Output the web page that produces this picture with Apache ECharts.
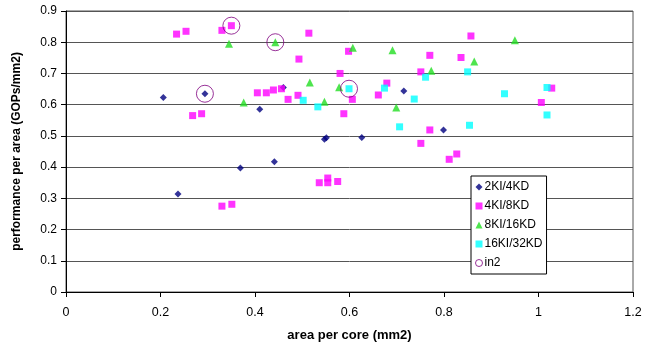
<!DOCTYPE html>
<html><head><meta charset="utf-8">
<script src="https://cdn.jsdelivr.net/npm/echarts@6/dist/echarts.min.js"></script>
<style>html,body{margin:0;padding:0;background:#fff}#c{width:645px;height:352px}</style>
</head><body><div id="c"></div>
<script>
var seriesNames = ['2KI/4KD', '4KI/8KD', '8KI/16KD', '16KI/32KD', 'in2'];
var xTicks = [0, 0.2, 0.4, 0.6, 0.8, 1, 1.2];
var yTicks = [0, 0.1, 0.2, 0.3, 0.4, 0.5, 0.6, 0.7, 0.8, 0.9];
var data2KI = [[0.206,0.623],[0.294,0.635],[0.410,0.585],[0.460,0.655],[0.237,0.314],[0.369,0.397],[0.441,0.417],[0.547,0.489],[0.551,0.494],[0.626,0.495],[0.715,0.644],[0.799,0.519]];
var data4KI = [[0.234,0.826],[0.254,0.835],[0.330,0.838],[0.350,0.853],[0.268,0.565],[0.287,0.571],[0.405,0.638],[0.424,0.638],[0.439,0.647],[0.456,0.651],[0.470,0.617],[0.491,0.630],[0.493,0.746],[0.514,0.829],[0.580,0.700],[0.598,0.771],[0.606,0.617],[0.588,0.571],[0.661,0.631],[0.679,0.669],[0.751,0.705],[0.770,0.758],[0.751,0.476],[0.770,0.519],[0.811,0.425],[0.827,0.442],[0.836,0.751],[0.857,0.820],[1.006,0.607],[1.028,0.653],[0.330,0.275],[0.351,0.281],[0.536,0.350],[0.554,0.365],[0.554,0.350],[0.575,0.354]];
var data8KI = [[0.345,0.795],[0.376,0.607],[0.443,0.800],[0.516,0.671],[0.547,0.609],[0.578,0.656],[0.607,0.782],[0.691,0.774],[0.699,0.591],[0.773,0.709],[0.864,0.738],[0.950,0.806]];
var data16KI = [[0.502,0.614],[0.533,0.593],[0.599,0.651],[0.674,0.653],[0.706,0.529],[0.737,0.618],[0.761,0.688],[0.850,0.705],[0.854,0.534],[0.928,0.635],[1.018,0.655],[1.018,0.567]];
var dataIn2 = [[0.294,0.635],[0.350,0.853],[0.443,0.800],[0.599,0.651]];

var colors = ['#000080', '#FF00FF', '#22DD22', '#00FFFF', '#800080'];
var font = 'Liberation Sans, Arial, sans-serif';
var chart = echarts.init(document.getElementById('c'), null, {renderer:'canvas'});
chart.setOption({
  animation: false,
  backgroundColor: '#fff',
  textStyle: {fontFamily: font},
  grid: {left: 66, right: 12, top: 11, bottom: 60, show: true, borderColor: '#555', borderWidth: 1},
  xAxis: {
    type: 'value', min: xTicks[0], max: xTicks[xTicks.length-1], interval: 0.2,
    name: 'area per core (mm2)', nameLocation: 'middle', nameGap: 37,
    nameTextStyle: {fontFamily: font, fontSize: 13, fontWeight: 'bold', color: '#000'},
    axisLine: {show: true, lineStyle: {color: '#000', width: 1}},
    axisTick: {show: true, inside: false, length: 5, lineStyle: {color: '#000'}},
    axisLabel: {fontFamily: font, fontSize: 12.5, color: '#000', margin: 14},
    splitLine: {show: false}
  },
  yAxis: {
    type: 'value', min: yTicks[0], max: yTicks[yTicks.length-1], interval: 0.1,
    name: 'performance per area (GOPs/mm2)', nameLocation: 'middle', nameGap: 43,
    nameTextStyle: {fontFamily: font, fontSize: 12, fontWeight: 'bold', color: '#000'},
    axisLine: {show: true, lineStyle: {color: '#000', width: 1}},
    axisTick: {show: true, inside: false, length: 5, lineStyle: {color: '#000'}},
    axisLabel: {fontFamily: font, fontSize: 12, color: '#000', margin: 9,
      formatter: function(v){ return String(Math.round(v*10)/10); }},
    splitLine: {show: true, lineStyle: {color: '#555', width: 1}}
  },
  legend: {
    show: true, orient: 'vertical', left: 471, top: 176,
    data: [
      {name: seriesNames[0], icon: 'diamond'},
      {name: seriesNames[1], icon: 'rect'},
      {name: seriesNames[2], icon: 'triangle'},
      {name: seriesNames[3], icon: 'rect'},
      {name: seriesNames[4], icon: 'circle', itemStyle: {color: '#ffffff', borderColor: colors[4], borderWidth: 1}}
    ],
    itemWidth: 7, itemHeight: 7, itemGap: 5,
    padding: [4, 4, 4, 4],
    borderColor: '#000', borderWidth: 1, backgroundColor: '#fff',
    textStyle: {fontFamily: font, fontSize: 12, color: '#000', padding: [0,0,0,-3], lineHeight: 14}
  },
  series: [
    {name: seriesNames[0], type: 'scatter', data: data2KI, symbol: 'diamond', symbolSize: 7, itemStyle: {color: colors[0]}},
    {name: seriesNames[1], type: 'scatter', data: data4KI, symbol: 'rect', symbolSize: 7, itemStyle: {color: colors[1]}},
    {name: seriesNames[2], type: 'scatter', data: data8KI, symbol: 'triangle', symbolSize: 8, itemStyle: {color: colors[2]}},
    {name: seriesNames[3], type: 'scatter', data: data16KI, symbol: 'rect', symbolSize: 7, itemStyle: {color: colors[3]}},
    {name: seriesNames[4], type: 'scatter', data: dataIn2, symbol: 'circle', symbolSize: 17,
     itemStyle: {color: 'rgba(255,255,255,0)', borderColor: colors[4], borderWidth: 1}}
  ]
});
</script></body></html>
